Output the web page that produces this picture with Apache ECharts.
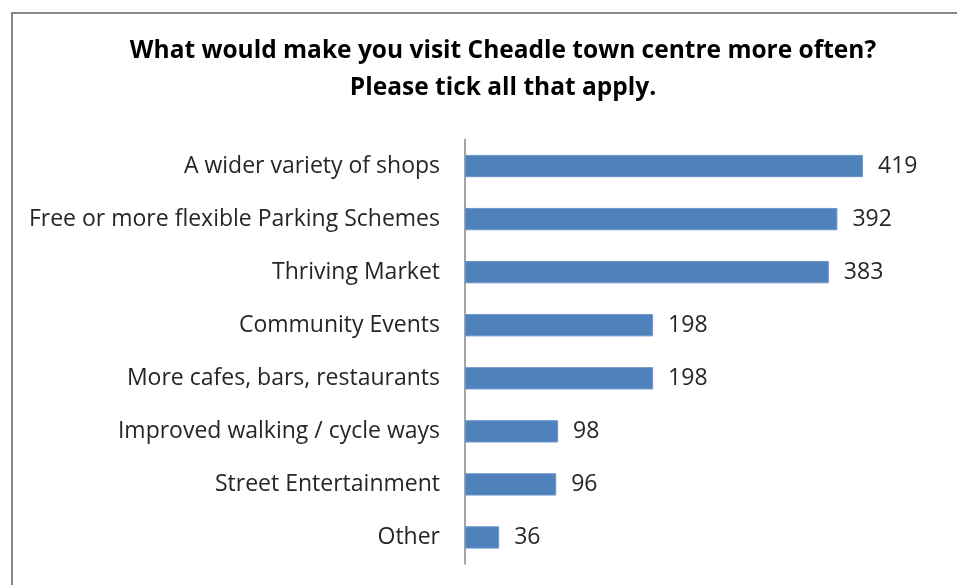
<!DOCTYPE html>
<html>
<head>
<meta charset="utf-8">
<script src="https://cdn.jsdelivr.net/npm/echarts@6/dist/echarts.min.js"></script>
<style>
html,body{margin:0;padding:0;background:#fff;}
#chart{width:957px;height:585px;}
</style>
</head>
<body>
<div id="chart"></div>
<script>
const titleLines = ['What would make you visit Cheadle town centre more often?', 'Please tick all that apply.'];
const categories = ['A wider variety of shops', 'Free or more flexible Parking Schemes', 'Thriving Market', 'Community Events', 'More cafes, bars, restaurants', 'Improved walking / cycle ways', 'Street Entertainment', 'Other'];
const values = [419, 392, 383, 198, 198, 98, 96, 36];

const chart = echarts.init(document.getElementById('chart'));
chart.setOption({
  animation: false,
  backgroundColor: '#ffffff',
  title: {
    text: titleLines.join('\n'),
    left: 498,
    top: 28,
    textAlign: 'center',
    textStyle: {
      fontFamily: 'Open Sans',
      fontWeight: 'bold',
      fontSize: 24.5,
      lineHeight: 37,
      color: '#000000'
    }
  },
  graphic: [{
    type: 'rect',
    shape: { x: 12, y: 13, width: 1000, height: 1000 },
    style: { fill: 'none', stroke: '#888888', lineWidth: 2 },
    silent: true
  }],
  grid: { left: 465, right: 64.5, top: 139.5, bottom: 21, containLabel: false },
  xAxis: {
    type: 'value',
    min: 0,
    max: 450,
    show: false
  },
  yAxis: {
    type: 'category',
    data: categories,
    inverse: true,
    axisLine: { show: true, lineStyle: { color: '#868686', width: 1.5 } },
    axisTick: { show: false },
    axisLabel: {
      margin: 25,
      fontFamily: 'Open Sans',
      fontSize: 23,
      color: '#262626'
    }
  },
  series: [{
    type: 'bar',
    data: values,
    barCategoryGap: '58%',
    itemStyle: { color: '#4F81BD', borderColor: '#6B95C8', borderWidth: 1 },
    label: {
      show: true,
      position: 'right',
      distance: 15,
      fontFamily: 'Open Sans',
      fontSize: 23,
      color: '#262626'
    }
  }]
});
</script>
</body>
</html>
